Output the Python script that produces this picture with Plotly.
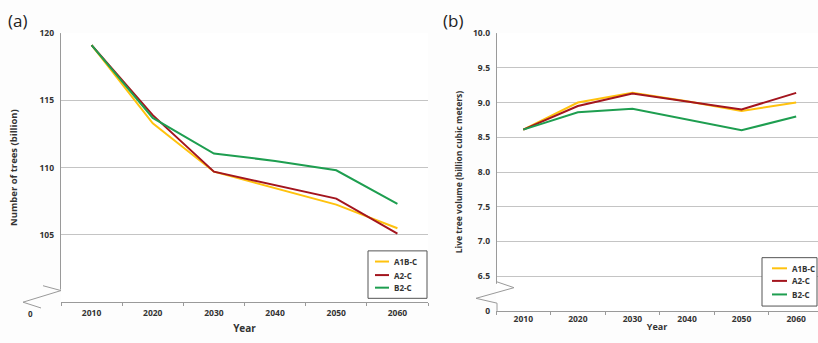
import plotly.graph_objects as go

W, H = 818, 343

years = ["2010", "2020", "2030", "2040", "2050", "2060"]
series_names = ["A1B-C", "A2-C", "B2-C"]
colors = ["#FFC20E", "#A3151E", "#1E9E50"]

# Panel (a): Number of trees (billion)
trees_a1b = [119.1, 113.3, 109.7, 108.45, 107.25, 105.5]
trees_a2 = [119.1, 113.9, 109.7, 108.7, 107.7, 105.1]
trees_b2 = [119.1, 113.7, 111.05, 110.5, 109.8, 107.3]

# Panel (b): Live tree volume (billion cubic meters)
vol_a1b = [8.61, 9.00, 9.14, 9.02, 8.88, 9.00]
vol_a2 = [8.61, 8.95, 9.13, 9.02, 8.90, 9.14]
vol_b2 = [8.61, 8.86, 8.91, 8.75, 8.60, 8.80]

ticks_a = [105, 110, 115, 120]
ticks_b = [6.0, 6.5, 7.0, 7.5, 8.0, 8.5, 9.0, 9.5, 10.0]
ticktext_b = ["0", "6.5", "7.0", "7.5", "8.0", "8.5", "9.0", "9.5", "10.0"]


def px(x):
    return x / W


def py(y):
    return (H - y) / H


FONT = "Open Sans"
TXT = "#333333"
GRID = "#c4c4c4"
AXIS = "#9a9a9a"

fig = go.Figure()
for name, col, ya, yb in zip(series_names, colors,
                             [trees_a1b, trees_a2, trees_b2],
                             [vol_a1b, vol_a2, vol_b2]):
    fig.add_trace(go.Scatter(x=years, y=ya, mode="lines", name=name,
                             line=dict(color=col, width=2),
                             xaxis="x", yaxis="y"))
    fig.add_trace(go.Scatter(x=years, y=yb, mode="lines", name=name,
                             line=dict(color=col, width=2),
                             xaxis="x2", yaxis="y2"))

xcommon = dict(type="category", showgrid=False, showline=True, linecolor=AXIS,
               linewidth=1, ticks="outside", tickson="boundaries", ticklen=3,
               tickcolor=AXIS, zeroline=False,
               tickfont=dict(family=FONT, size=8.5, color=TXT, weight="bold"))
ycommon = dict(showgrid=True, gridcolor=GRID, gridwidth=1, showline=False,
               zeroline=False, ticks="",
               tickfont=dict(family=FONT, size=8.5, color=TXT, weight="bold"))

fig.update_layout(
    width=W, height=H,
    margin=dict(l=0, r=0, t=0, b=0),
    paper_bgcolor="#fdfdfd", plot_bgcolor="#ffffff",
    showlegend=False,
    xaxis=dict(xcommon, domain=[px(61), px(428)], range=[-0.5, 5.5],
               anchor="y", ticklabelstandoff=3,
               title=dict(text="Year", standoff=7,
                          font=dict(family=FONT, size=10, color=TXT, weight="bold"))),
    yaxis=dict(ycommon, domain=[py(306), py(28)], range=[100, 120],
               tickvals=ticks_a, anchor="x", ticklabelstandoff=6,
               title=dict(text="Number of trees (billion)", standoff=20,
                          font=dict(family=FONT, size=9.5, color=TXT, weight="bold"))),
    xaxis2=dict(xcommon, domain=[px(496), 1.0], range=[-0.5, 5.4],
                anchor="y2",
                title=dict(text="Year", standoff=0,
                           font=dict(family=FONT, size=9, color=TXT, weight="bold"))),
    yaxis2=dict(ycommon, domain=[py(315), py(28)], range=[6.0, 10.0],
                tickvals=ticks_b, ticktext=ticktext_b, anchor="x2", ticklabelstandoff=5,
                title=dict(text="Live tree volume (billion cubic meters)", standoff=9,
                           font=dict(family=FONT, size=8.5, color=TXT, weight="bold"))),
)

shapes = []


def seg(pts, color=AXIS, width=1):
    path = "M " + " L ".join(f"{px(x)},{py(y)}" for x, y in pts)
    shapes.append(dict(type="path", path=path, xref="paper", yref="paper",
                       line=dict(color=color, width=width)))


# Panel (a) y-axis line with break
seg([(60.5, 28), (60.5, 293)])
seg([(43, 289), (61, 294), (23, 306), (41, 312)])
# Panel (b) y-axis line with break
seg([(496.5, 28), (496.5, 287)])
seg([(497, 285), (514, 291), (476, 302), (497, 307), (497, 315)])


# Manual legends (one per panel)
def legend(box, line_x, rows_y, text_x):
    x0, y0, x1, y1 = box
    shapes.append(dict(type="rect", xref="paper", yref="paper",
                       x0=px(x0), x1=px(x1), y0=py(y1), y1=py(y0),
                       fillcolor="#ffffff", line=dict(color="#555555", width=1)))
    for name, col, ry in zip(series_names, colors, rows_y):
        shapes.append(dict(type="line", xref="paper", yref="paper",
                           x0=px(line_x[0]), x1=px(line_x[1]), y0=py(ry), y1=py(ry),
                           line=dict(color=col, width=2)))
        fig.add_annotation(text=name, x=px(text_x), y=py(ry), xref="paper", yref="paper",
                           xanchor="left", yanchor="middle", showarrow=False,
                           font=dict(family=FONT, size=8, color=TXT, weight="bold"))


legend((368, 253, 427, 302), (375, 389), (264, 278, 291), 392)
legend((762, 260, 817, 310), (772, 787), (271, 284, 298), 790)

fig.update_layout(shapes=shapes)

fig.add_annotation(text="(a)", x=px(6), y=py(15), xref="paper", yref="paper",
                   xanchor="left", yanchor="middle", showarrow=False,
                   font=dict(family=FONT, size=17, color="#222222"))
fig.add_annotation(text="(b)", x=px(441), y=py(15), xref="paper", yref="paper",
                   xanchor="left", yanchor="middle", showarrow=False,
                   font=dict(family=FONT, size=17, color="#222222"))
fig.add_annotation(text="0", x=px(30), y=py(318), xref="paper", yref="paper",
                   xanchor="center", yanchor="middle", showarrow=False,
                   font=dict(family=FONT, size=8, color=TXT, weight="bold"))

fig.write_html("out.html", config={"displayModeBar": False},
               post_script="document.body.style.margin='0px';"
                           "document.body.style.overflow='hidden';")
